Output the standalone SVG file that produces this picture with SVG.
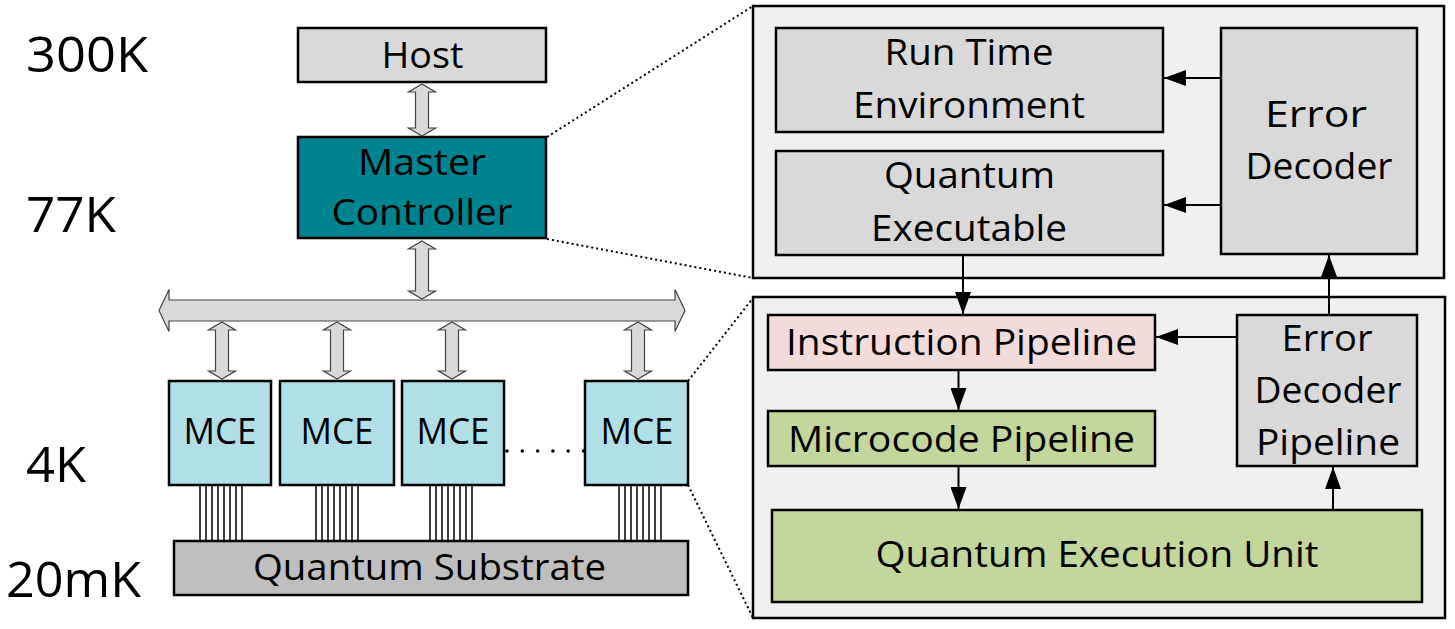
<svg xmlns="http://www.w3.org/2000/svg" width="1455" height="629" viewBox="0 0 1455 629">
<defs>
<style>
text{font-family:"Open Sans","Noto Sans","DejaVu Sans",sans-serif;fill:#000;text-anchor:middle}
.t{font-size:36px}
.temp{font-size:50px;text-anchor:start}
.box{stroke:#000;stroke-width:2.5}
.gray{fill:#d9d9d9}
.teal{fill:#008391}
.mce{fill:#b0dfe6}
.sub{fill:#bfbfbf}
.panel{fill:#f0f0f0;stroke:#000;stroke-width:2.5}
.pink{fill:#f2dcdb}
.green{fill:#c3d69b}
.blk{fill:#d9d9d9;stroke:#444;stroke-width:1.2}
.ln{stroke:#000;stroke-width:2;fill:none}
.zoom{stroke:#000;stroke-width:2;stroke-dasharray:2 3;fill:none}
.wire{stroke:#000;stroke-width:1.5}
</style>
<marker id="ah" viewBox="0 0 22 16" refX="22" refY="8" markerWidth="22" markerHeight="16" markerUnits="userSpaceOnUse" orient="auto">
<path d="M0,0 L22,8 L0,16 Z" fill="#000"/>
</marker>
</defs>

<g id="temps">
<text class="temp" x="26" y="72" textLength="122" lengthAdjust="spacingAndGlyphs">300K</text>
<text class="temp" x="26" y="232" textLength="90" lengthAdjust="spacingAndGlyphs">77K</text>
<text class="temp" x="26" y="482" textLength="60" lengthAdjust="spacingAndGlyphs">4K</text>
<text class="temp" x="6" y="597" textLength="135" lengthAdjust="spacingAndGlyphs">20mK</text>
</g>

<g id="zoomlines">
<line class="zoom" x1="547" y1="137" x2="753" y2="6"/>
<line class="zoom" x1="547" y1="239" x2="753" y2="278"/>
<line class="zoom" x1="688" y1="381" x2="753" y2="298"/>
<line class="zoom" x1="688" y1="485" x2="753" y2="618"/>
</g>

<g id="host">
<rect class="box gray" x="298" y="28" width="248" height="54"/>
<text class="t" x="422.5" y="68" textLength="82" lengthAdjust="spacingAndGlyphs">Host</text>
</g>

<g id="master">
<rect class="box teal" x="298" y="137" width="248" height="101"/>
<text class="t" x="422" y="175" textLength="128" lengthAdjust="spacingAndGlyphs">Master</text>
<text class="t" x="422" y="225" textLength="181" lengthAdjust="spacingAndGlyphs">Controller</text>
</g>

<g id="substrate">
<rect class="box sub" x="174" y="541" width="514" height="54"/>
<text class="t" x="429.5" y="580" textLength="353" lengthAdjust="spacingAndGlyphs">Quantum Substrate</text>
</g>

<g id="wires">
<g class="wire">
<line x1="200" y1="485" x2="200" y2="541"/><line x1="206" y1="485" x2="206" y2="541"/><line x1="212" y1="485" x2="212" y2="541"/><line x1="218" y1="485" x2="218" y2="541"/><line x1="224" y1="485" x2="224" y2="541"/><line x1="230" y1="485" x2="230" y2="541"/><line x1="236" y1="485" x2="236" y2="541"/><line x1="242" y1="485" x2="242" y2="541"/>
<line x1="316" y1="485" x2="316" y2="541"/><line x1="322" y1="485" x2="322" y2="541"/><line x1="328" y1="485" x2="328" y2="541"/><line x1="334" y1="485" x2="334" y2="541"/><line x1="340" y1="485" x2="340" y2="541"/><line x1="346" y1="485" x2="346" y2="541"/><line x1="352" y1="485" x2="352" y2="541"/><line x1="358" y1="485" x2="358" y2="541"/>
<line x1="430" y1="485" x2="430" y2="541"/><line x1="436" y1="485" x2="436" y2="541"/><line x1="442" y1="485" x2="442" y2="541"/><line x1="448" y1="485" x2="448" y2="541"/><line x1="454" y1="485" x2="454" y2="541"/><line x1="460" y1="485" x2="460" y2="541"/><line x1="466" y1="485" x2="466" y2="541"/><line x1="472" y1="485" x2="472" y2="541"/>
<line x1="619" y1="485" x2="619" y2="541"/><line x1="625" y1="485" x2="625" y2="541"/><line x1="631" y1="485" x2="631" y2="541"/><line x1="637" y1="485" x2="637" y2="541"/><line x1="643" y1="485" x2="643" y2="541"/><line x1="649" y1="485" x2="649" y2="541"/><line x1="655" y1="485" x2="655" y2="541"/><line x1="661" y1="485" x2="661" y2="541"/>
</g>
</g>

<g id="mce1">
<rect class="box mce" x="169" y="381" width="102" height="104"/>
<text class="t" x="220" y="444" textLength="73" lengthAdjust="spacingAndGlyphs">MCE</text>
</g>
<g id="mce2">
<rect class="box mce" x="280" y="381" width="114" height="104"/>
<text class="t" x="337" y="444" textLength="73" lengthAdjust="spacingAndGlyphs">MCE</text>
</g>
<g id="mce3">
<rect class="box mce" x="402" y="381" width="102" height="104"/>
<text class="t" x="453" y="444" textLength="73" lengthAdjust="spacingAndGlyphs">MCE</text>
</g>
<g id="mce4">
<rect class="box mce" x="585" y="381" width="103" height="104"/>
<text class="t" x="637" y="444" textLength="73" lengthAdjust="spacingAndGlyphs">MCE</text>
</g>

<g id="panel-top">
<rect class="panel" x="753" y="6" width="691" height="272"/>
</g>
<g id="panel-bottom">
<rect class="panel" x="753" y="297" width="692" height="321"/>
</g>

<g id="runtime">
<rect class="box gray" x="776" y="28" width="387" height="104"/>
<text class="t" x="969" y="65" textLength="169" lengthAdjust="spacingAndGlyphs">Run Time</text>
<text class="t" x="969" y="118" textLength="232" lengthAdjust="spacingAndGlyphs">Environment</text>
</g>
<g id="qexec">
<rect class="box gray" x="776" y="151" width="387" height="104"/>
<text class="t" x="969.5" y="188" textLength="171" lengthAdjust="spacingAndGlyphs">Quantum</text>
<text class="t" x="969" y="241" textLength="196" lengthAdjust="spacingAndGlyphs">Executable</text>
</g>
<g id="errdec">
<rect class="box gray" x="1221" y="28" width="196" height="226"/>
<text class="t" x="1316" y="127" textLength="102" lengthAdjust="spacingAndGlyphs">Error</text>
<text class="t" x="1319" y="179" textLength="147" lengthAdjust="spacingAndGlyphs">Decoder</text>
</g>
<g id="instr">
<rect class="box pink" x="768" y="315" width="387" height="55"/>
<text class="t" x="961.5" y="355" textLength="351" lengthAdjust="spacingAndGlyphs">Instruction Pipeline</text>
</g>
<g id="micro">
<rect class="box green" x="768" y="411" width="387" height="55"/>
<text class="t" x="961.5" y="452" textLength="347" lengthAdjust="spacingAndGlyphs">Microcode Pipeline</text>
</g>
<g id="qeu">
<rect class="box green" x="772" y="510" width="650" height="92"/>
<text class="t" x="1097" y="567" textLength="443" lengthAdjust="spacingAndGlyphs">Quantum Execution Unit</text>
</g>
<g id="edp">
<rect class="box gray" x="1237" y="315" width="180" height="151"/>
<text class="t" x="1327" y="351" textLength="91" lengthAdjust="spacingAndGlyphs">Error</text>
<text class="t" x="1328" y="403" textLength="147" lengthAdjust="spacingAndGlyphs">Decoder</text>
<text class="t" x="1328" y="455" textLength="144" lengthAdjust="spacingAndGlyphs">Pipeline</text>
</g>

<g id="connectors">
<path class="blk" d="M422,84 L435.5,92 L428.5,92 L428.5,128 L435.5,128 L422,136 L408.5,128 L415.5,128 L415.5,92 L408.5,92 Z"/>
<path class="blk" d="M422,241 L435.5,249 L428.5,249 L428.5,291 L435.5,291 L422,299 L408.5,291 L415.5,291 L415.5,249 L408.5,249 Z"/>
<path class="blk" d="M159,310.5 L169,289.5 L169,300 L675,300 L675,289.5 L685,310.5 L675,331.5 L675,321 L169,321 L169,331.5 Z"/>
<path class="blk" d="M222,322 L235.5,330 L228.5,330 L228.5,371 L235.5,371 L222,379 L208.5,371 L215.5,371 L215.5,330 L208.5,330 Z"/>
<path class="blk" d="M337,322 L350.5,330 L343.5,330 L343.5,371 L350.5,371 L337,379 L323.5,371 L330.5,371 L330.5,330 L323.5,330 Z"/>
<path class="blk" d="M452,322 L465.5,330 L458.5,330 L458.5,371 L465.5,371 L452,379 L438.5,371 L445.5,371 L445.5,330 L438.5,330 Z"/>
<path class="blk" d="M638,322 L651.5,330 L644.5,330 L644.5,371 L651.5,371 L638,379 L624.5,371 L631.5,371 L631.5,330 L624.5,330 Z"/>
<line x1="507" y1="451" x2="584" y2="451" stroke="#000" stroke-width="3.5" stroke-linecap="round" stroke-dasharray="0 15.3"/>
<line class="ln" x1="1221" y1="78" x2="1164" y2="78" marker-end="url(#ah)"/>
<line class="ln" x1="1221" y1="205" x2="1164" y2="205" marker-end="url(#ah)"/>
<line class="ln" x1="963" y1="255" x2="963" y2="314" marker-end="url(#ah)"/>
<line class="ln" x1="1329" y1="315" x2="1329" y2="255" marker-end="url(#ah)"/>
<line class="ln" x1="1237" y1="337" x2="1156" y2="337" marker-end="url(#ah)"/>
<line class="ln" x1="958.5" y1="370" x2="958.5" y2="410" marker-end="url(#ah)"/>
<line class="ln" x1="958.5" y1="466" x2="958.5" y2="509" marker-end="url(#ah)"/>
<line class="ln" x1="1333" y1="510" x2="1333" y2="467" marker-end="url(#ah)"/>
</g>
</svg>
